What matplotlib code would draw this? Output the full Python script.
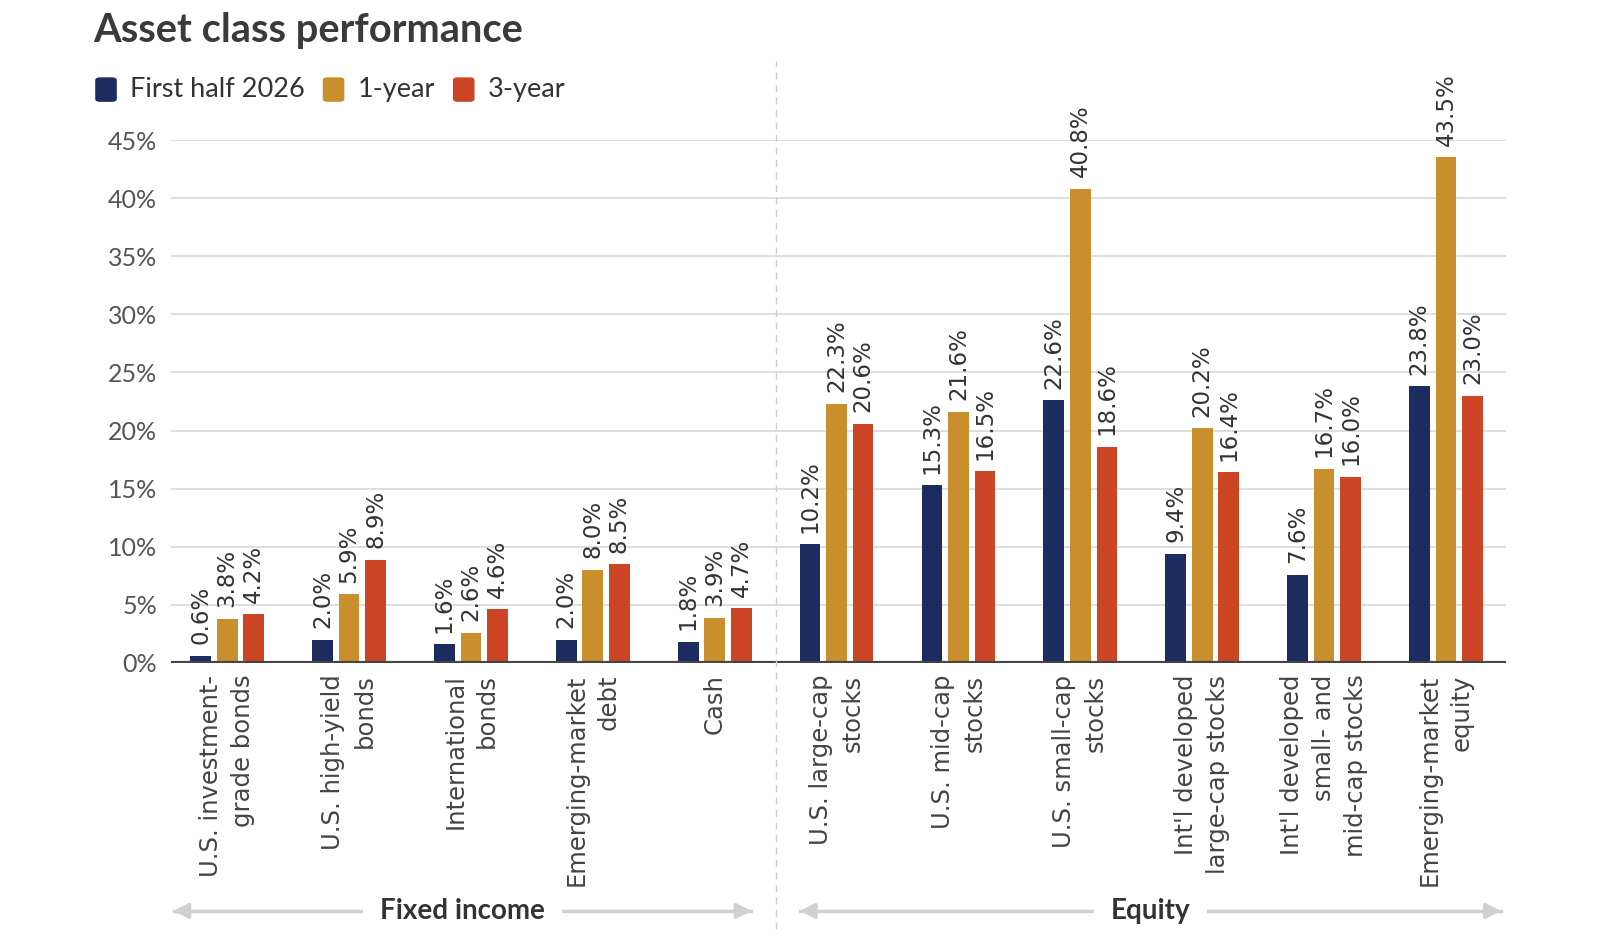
import matplotlib.pyplot as plt
import numpy as np
from matplotlib.patches import FancyBboxPatch
from matplotlib.lines import Line2D

plt.rcParams['font.family'] = ['Lato', 'DejaVu Sans']

categories = ["U.S. investment-\ngrade bonds", "U.S. high-yield\nbonds", "International\nbonds",
              "Emerging-market\ndebt", "Cash", "U.S. large-cap\nstocks", "U.S. mid-cap\nstocks",
              "U.S. small-cap\nstocks", "Int'l developed\nlarge-cap stocks",
              "Int'l developed\nsmall- and\nmid-cap stocks", "Emerging-market\nequity"]
first_half = [0.6, 2.0, 1.6, 2.0, 1.8, 10.2, 15.3, 22.6, 9.4, 7.6, 23.8]
one_year = [3.8, 5.9, 2.6, 8.0, 3.9, 22.3, 21.6, 40.8, 20.2, 16.7, 43.5]
three_year = [4.2, 8.9, 4.6, 8.5, 4.7, 20.6, 16.5, 18.6, 16.4, 16.0, 23.0]
series_names = ['First half 2026', '1-year', '3-year']
colors = ['#1c2b60', '#c98f2c', '#cc4625']
yticks = [0, 5, 10, 15, 20, 25, 30, 35, 40, 45]

fig = plt.figure(figsize=(16, 9.43), dpi=100)
ax = fig.add_axes([0.107, 0.297, 0.834, 0.5545])

x = np.arange(len(categories))
w = 0.17
pitch = 0.218
for i, (vals, c) in enumerate(zip([first_half, one_year, three_year], colors)):
    pos = x + (i - 1) * pitch
    ax.bar(pos, vals, width=w, color=c, zorder=3)
    for p, v in zip(pos, vals):
        ax.text(p, v + 1.0, '%.1f%%' % v, rotation=90, ha='center', va='bottom',
                fontsize=16.5, color='#333333', zorder=4, family='DejaVu Sans')

ax.set_xlim(-0.46, 10.49)
ax.set_ylim(0, 45)
ax.set_yticks(yticks)
ax.set_yticklabels(['%d%%' % t for t in yticks], fontsize=18, color='#555555')
ax.tick_params(axis='y', length=0, pad=10)
ax.tick_params(axis='x', length=0)
ax.set_xticks([])
ax.grid(axis='y', color='#d8d8d8', linewidth=1.2, zorder=0)
for s in ax.spines.values():
    s.set_visible(False)
ax.axhline(0, color='#444444', linewidth=3, zorder=5)

for xi, cat in zip(x, categories):
    ax.text(xi, -1.0, cat, rotation=90, ha='center', va='top', ma='right',
            fontsize=17.5, color='#444444', linespacing=1.4, family='DejaVu Sans')

# divider between fixed income and equity
xd = ax.transData.transform((4.5, 0))[0] / fig.bbox.width
fig.add_artist(Line2D([xd, xd], [0.015, 0.935], color='#cccccc', linewidth=1,
                      linestyle=(0, (5, 4))))

# group brackets
def group(x0, x1, label):
    fx0 = ax.transData.transform((x0, 0))[0] / fig.bbox.width
    fx1 = ax.transData.transform((x1, 0))[0] / fig.bbox.width
    yy = 0.034
    fig.add_artist(plt.Line2D([fx0, fx1], [yy, yy], color='#d0d0d0', linewidth=2.5))
    ann = dict(arrowstyle='-|>,head_length=0.9,head_width=0.45', color='#d0d0d0', lw=2.5)
    fig.text((fx0 + fx1) / 2, yy, label, ha='center', va='center', fontsize=20,
             fontweight='bold', color='#333333',
             bbox=dict(facecolor='white', edgecolor='none', pad=12))
    ax.annotate('', xy=(fx0 - 0.002, yy), xytext=(fx0 + 0.01, yy), xycoords='figure fraction',
                arrowprops=ann)
    ax.annotate('', xy=(fx1 + 0.002, yy), xytext=(fx1 - 0.01, yy), xycoords='figure fraction',
                arrowprops=ann)

group(-0.44, 4.30, 'Fixed income')
group(4.70, 10.45, 'Equity')

fig.text(0.058, 0.968, 'Asset class performance', fontsize=28.7, fontweight='bold',
         color='#3a3a3a', va='center')

# legend
lx = 0.0595
ly = 0.905
for name, c in zip(series_names, colors):
    fig.add_artist(FancyBboxPatch((lx, ly - 0.013), 0.0135, 0.026,
                                  boxstyle='round,pad=0,rounding_size=0.003',
                                  transform=fig.transFigure, facecolor=c, edgecolor='none'))
    t = fig.text(lx + 0.022, ly, name, fontsize=19.5, color='#333333', va='center')
    fig.canvas.draw()
    bb = t.get_window_extent()
    lx = bb.x1 / fig.bbox.width + 0.011

fig.savefig('out.png', dpi=100, facecolor='white')
